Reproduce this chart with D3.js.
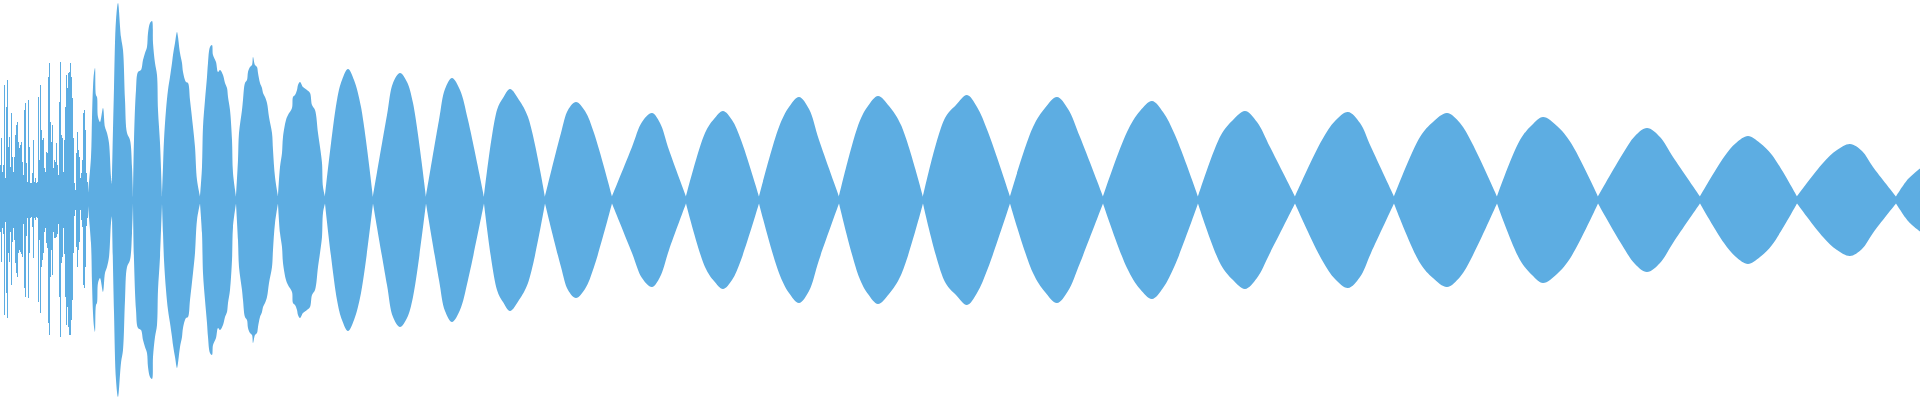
<!DOCTYPE html>
<html>
  <head>
    <meta charset="UTF-8">
    <style>
      html, body { margin: 0; padding: 0; background: #ffffff; }
      svg { display: block; }
    </style>
  </head>
  <body>
    <script src="https://cdn.jsdelivr.net/npm/d3@7"></script>
    <svg id="wave" width="1920" height="400"></svg>
    <script>
      // peak data, one frame per bucket, amplitude normalised to [-1, 1]
      var totalFrames = 1920;

      // noisy attack: max / min of frames 0..87
      var attackTop = [0.175, 0.31, 0.14, 0.175, 0.575, 0.11, 0.465, 0.6, 0.265, 0.315,
        0.165, 0.435, 0.215, 0.14, 0.215, 0.325, 0.375, 0.39, 0.29, 0.26,
        0.275, 0.29, 0.19, 0.125, 0.45, 0.485, 0.185, 0.09, 0.5, 0.265,
        0.085, 0.085, 0.135, 0.3, 0.09, 0.11, 0.085, 0.09, 0.515, 0.2,
        0.575, 0.35, 0.3, 0.31, 0.16, 0.14, 0.24, 0.235, 0.615, 0.685,
        0.39, 0.29, 0.375, 0.16, 0.2, 0.19, 0.285, 0.175, 0.125, 0.49,
        0.69, 0.325, 0.31, 0.14, 0.3, 0.465, 0.625, 0.56, 0.635, 0.64,
        0.685, 0.615, 0.51, 0.31, 0.085, 0.05, 0.235, 0.34, 0.25, 0.215,
        0.11, 0.135, 0.2, 0.435, 0.45, 0.35, 0.135, 0.09];
      var attackBottom = [-0.16, -0.31, -0.14, -0.17, -0.575, -0.11, -0.465, -0.59, -0.265, -0.31,
        -0.16, -0.425, -0.21, -0.14, -0.2, -0.315, -0.365, -0.385, -0.265, -0.25,
        -0.26, -0.27, -0.285, -0.12, -0.44, -0.485, -0.18, -0.09, -0.49, -0.265,
        -0.09, -0.085, -0.135, -0.29, -0.09, -0.1, -0.085, -0.09, -0.51, -0.2,
        -0.565, -0.335, -0.3, -0.265, -0.16, -0.14, -0.215, -0.24, -0.615, -0.675,
        -0.385, -0.25, -0.375, -0.16, -0.19, -0.19, -0.185, -0.17, -0.12, -0.485,
        -0.685, -0.315, -0.285, -0.14, -0.27, -0.485, -0.625, -0.535, -0.635, -0.675,
        -0.675, -0.6, -0.5, -0.265, -0.08, -0.05, -0.235, -0.335, -0.25, -0.21,
        -0.05, -0.1, -0.135, -0.425, -0.44, -0.335, -0.13, -0.09];

      // beating part: frames where the envelope pinches (lobe boundaries)
      var lobeNodes = [88, 112, 133, 162, 200, 236, 278, 325, 373, 426, 484, 545, 612, 686,
        759, 839, 923, 1010, 1103, 1198, 1295, 1394, 1497, 1598, 1700, 1797, 1896, 1920];

      // envelope (symmetric around 0) sampled along the beating part
      var envFrames = [
        88, 91, 92, 93, 94, 95, 96, 97, 98, 100, 103, 105, 107, 109, 111,
        112, 114, 116, 118, 121, 123, 125, 127, 130, 132,
        133, 134, 136, 138, 141, 143, 145, 147, 148, 150, 152, 153, 155, 157, 158, 160,
        162, 163, 164, 166, 168, 170, 172, 173, 175, 177, 178, 180, 182, 183, 186, 188, 190, 193, 195, 197,
        200, 202, 203, 205, 207, 208, 210, 212, 213, 216, 218, 220, 223, 225, 227, 228, 230, 232, 233,
        236, 238, 239, 242, 243, 245, 247, 248, 250, 252, 253, 255, 257, 258, 260, 262, 263, 265, 267, 269, 272, 273, 275,
        278, 280, 282, 283, 286, 288, 292, 293, 295, 297, 298, 300, 303, 307, 310, 312, 315, 318, 320, 322, 323,
        325, 337, 342, 348, 354, 361,
        373, 387, 393, 400, 407, 413,
        426, 439, 445, 452, 460, 468,
        484, 497, 503, 510, 519, 528,
        545, 561, 568, 576, 585, 594,
        612, 632, 642, 652, 660, 669,
        686, 705, 714, 723, 732, 741,
        759, 779, 789, 799, 809, 819,
        839, 859, 868, 878, 889, 901,
        923, 945, 956, 967, 977, 988,
        1010, 1033, 1045, 1057, 1068, 1080,
        1103, 1127, 1140, 1152, 1163, 1175,
        1198, 1221, 1233, 1245, 1257, 1270,
        1295, 1322, 1335, 1348, 1360, 1371,
        1394, 1420, 1433, 1447, 1460, 1472,
        1497, 1520, 1532, 1543, 1557, 1571,
        1598, 1622, 1635, 1647, 1660, 1673,
        1700, 1724, 1736, 1748, 1760, 1772,
        1797, 1823, 1837, 1850, 1862, 1873,
        1896, 1908, 1920];
      var envAmp = [
        0.03, 0.215, 0.415, 0.565, 0.635, 0.66, 0.525, 0.515, 0.415, 0.39, 0.46, 0.365, 0.335, 0.285, 0.115,
        0.08, 0.56, 0.9, 0.985, 0.815, 0.75, 0.5, 0.335, 0.3, 0.165,
        0.018, 0.3, 0.55, 0.64, 0.65, 0.7, 0.735, 0.765, 0.835, 0.885, 0.895, 0.785, 0.685, 0.625, 0.45, 0.285,
        0.018, 0.165, 0.3, 0.45, 0.55, 0.615, 0.685, 0.725, 0.785, 0.84, 0.815, 0.735, 0.685, 0.64, 0.59, 0.585, 0.5, 0.365, 0.265, 0.1,
        0.018, 0.165, 0.365, 0.5, 0.615, 0.685, 0.765, 0.775, 0.725, 0.69, 0.64, 0.65, 0.625, 0.585, 0.56, 0.515, 0.45, 0.3, 0.135,
        0.018, 0.2, 0.335, 0.45, 0.5, 0.585, 0.6, 0.64, 0.665, 0.675, 0.715, 0.675, 0.665, 0.635, 0.585, 0.56, 0.535, 0.515, 0.485, 0.415, 0.335, 0.25, 0.115,
        0.018, 0.165, 0.235, 0.315, 0.4, 0.425, 0.46, 0.515, 0.525, 0.55, 0.575, 0.59, 0.565, 0.55, 0.535, 0.475, 0.45, 0.335, 0.265, 0.185, 0.065,
        0.018, 0.5, 0.6, 0.655, 0.6, 0.465,
        0.018, 0.425, 0.585, 0.635, 0.59, 0.485,
        0.018, 0.4, 0.555, 0.61, 0.55, 0.4,
        0.018, 0.45, 0.51, 0.555, 0.5, 0.415,
        0.018, 0.335, 0.45, 0.49, 0.445, 0.335,
        0.018, 0.265, 0.39, 0.435, 0.385, 0.25,
        0.018, 0.335, 0.405, 0.445, 0.4, 0.3,
        0.018, 0.365, 0.465, 0.515, 0.455, 0.3,
        0.018, 0.385, 0.47, 0.52, 0.47, 0.375,
        0.018, 0.41, 0.475, 0.525, 0.465, 0.34,
        0.018, 0.365, 0.46, 0.515, 0.455, 0.315,
        0.018, 0.34, 0.445, 0.495, 0.44, 0.325,
        0.018, 0.325, 0.4, 0.445, 0.39, 0.265,
        0.018, 0.3, 0.395, 0.44, 0.385, 0.265,
        0.018, 0.315, 0.39, 0.435, 0.385, 0.285,
        0.018, 0.3, 0.375, 0.415, 0.37, 0.285,
        0.018, 0.225, 0.32, 0.36, 0.315, 0.215,
        0.018, 0.215, 0.285, 0.32, 0.285, 0.225,
        0.018, 0.185, 0.25, 0.28, 0.245, 0.165,
        0.018, 0.105, 0.158];

      var color = "#5dade2";

      var svg = d3.select("#wave"),
          width = +svg.attr("width"),
          height = +svg.attr("height");

      var x = d3.scaleLinear().domain([0, totalFrames]).range([0, width]),
          y = d3.scaleLinear().domain([-1, 1]).range([height, 0]);

      var area = d3.area()
        .x(function(d) { return x(d.f); })
        .y0(function(d) { return y(-d.a); })
        .y1(function(d) { return y(d.a); })
        .curve(d3.curveCatmullRom.alpha(0.5));

      /* attack: one bar per frame */
      svg.selectAll("rect.frame")
        .data(attackTop)
        .enter().append("rect")
        .attr("class", "frame")
        .attr("x", function(d, i) { return x(i); })
        .attr("width", function(d, i) { return x(i + 1) - x(i); })
        .attr("y", function(d) { return y(d); })
        .attr("height", function(d, i) { return y(attackBottom[i]) - y(d); })
        .attr("shape-rendering", "crispEdges")
        .attr("fill", color);

      /* beating part: one area per lobe, so each pinch stays sharp */
      var env = envFrames.map(function(f, i) { return {f: f, a: envAmp[i]}; });
      for (var i = 0; i < lobeNodes.length - 1; i++) {
        var n0 = lobeNodes[i], n1 = lobeNodes[i + 1];
        var pts = env.filter(function(d) { return d.f >= n0 && d.f <= n1; });
        svg.append("path")
          .datum(pts)
          .attr("fill", color)
          .attr("d", area);
      }
    </script>
  </body>
</html>
